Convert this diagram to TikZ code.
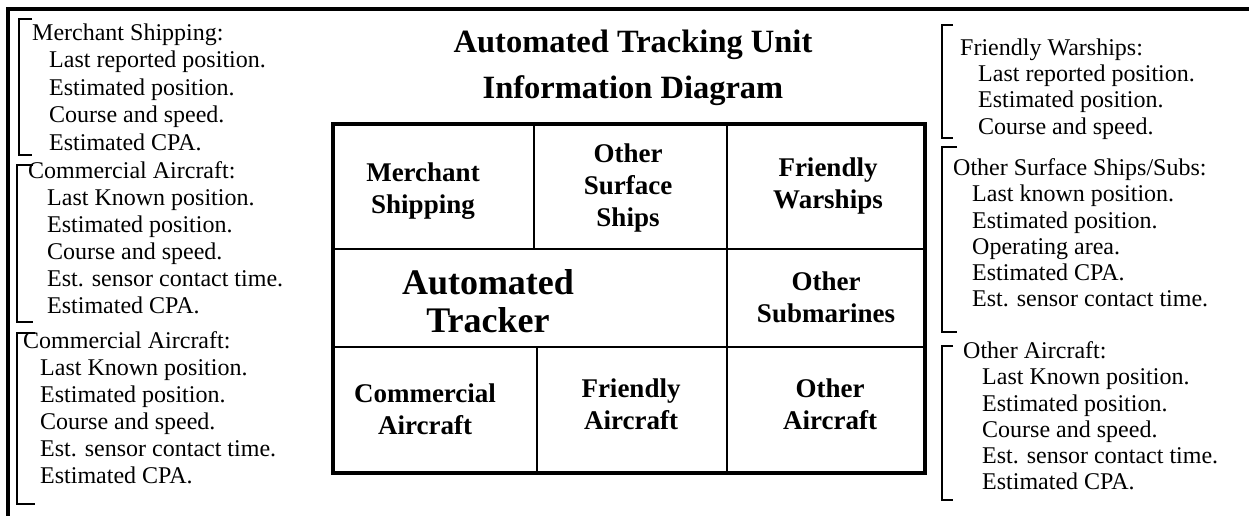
\documentclass[tikz,border=0pt]{standalone}
\usepackage{fontspec}
\setmainfont{Liberation Serif}
\begin{document}
\begin{tikzpicture}[x=1pt,y=-1pt,
  side/.style={anchor=base west,inner sep=0pt,font=\fontsize{24}{27}\selectfont},
  cell/.style={align=center,inner sep=0pt,font=\fontsize{27}{32}\selectfont\bfseries},
  bigcell/.style={align=center,inner sep=0pt,font=\fontsize{36}{38}\selectfont\bfseries},
  ttl/.style={anchor=base,inner sep=0pt,font=\fontsize{32.5}{40}\selectfont\bfseries},
  brk/.style={line width=2.5pt},
  gridthin/.style={line width=2.8pt},
  gridthick/.style={line width=4.5pt}]
\useasboundingbox (0,0) rectangle (1249,516);
\fill[white] (0,0) rectangle (1249,516);
% page frame
\draw[line width=3.5pt] (8,516) -- (8,9) -- (1249,9);
% title
\node[ttl] (t1) at (633,52.5) {Automated Tracking Unit};
\node[ttl] (t2) at (633,98.5) {Information Diagram};
% grid
\draw[gridthin] (333,249) -- (925,249);
\draw[gridthin] (333,347) -- (925,347);
\draw[gridthin] (534,124) -- (534,249);
\draw[gridthin] (727,124) -- (727,473);
\draw[gridthin] (537,347) -- (537,473);
\draw[gridthick] (333,124) rectangle (925,473);
\node[cell] (c1) at (423,191) {Merchant\\Shipping};
\node[cell] (c2) at (628,188) {Other\\Surface\\Ships};
\node[cell] (c3) at (828,186) {Friendly\\Warships};
\node[bigcell] (c4) at (488,301) {Automated\\Tracker};
\node[cell] (c5) at (826,297) {Other\\Submarines};
\node[cell] (c6) at (425,409) {Commercial\\Aircraft};
\node[cell] (c7) at (631,404) {Friendly\\Aircraft};
\node[cell] (c8) at (830,404) {Other\\Aircraft};
% left brackets
\draw[brk] (32,19) -- (19,19) -- (19,155) -- (32,155);
\draw[brk] (33,165) -- (17,165) -- (17,322) -- (33,322);
\draw[brk] (35,333) -- (17,333) -- (17,504) -- (35,504);
% left block 1
\node[side] (la0) at (32,41) {Merchant Shipping:};
\node[side] (la1) at (49,68) {Last reported position.};
\node[side] (la2) at (49,96) {Estimated position.};
\node[side] (la3) at (49,123) {Course and speed.};
\node[side] (la4) at (49,150) {Estimated CPA.};
% left block 2
\node[side] (lb0) at (28,178) {Commercial Aircraft:};
\node[side] (lb1) at (47,205) {Last Known position.};
\node[side] (lb2) at (47,232) {Estimated position.};
\node[side] (lb3) at (47,259) {Course and speed.};
\node[side] (lb4) at (47,286) {Est. sensor contact time.};
\node[side] (lb5) at (47,313) {Estimated CPA.};
% left block 3
\node[side] (lc0) at (23,348) {Commercial Aircraft:};
\node[side] (lc1) at (40,375) {Last Known position.};
\node[side] (lc2) at (40,402) {Estimated position.};
\node[side] (lc3) at (40,429) {Course and speed.};
\node[side] (lc4) at (40,456) {Est. sensor contact time.};
\node[side] (lc5) at (40,483) {Estimated CPA.};
% right brackets
\draw[brk] (953,25) -- (942,25) -- (942,138) -- (953,138);
\draw[brk] (957,147) -- (942,147) -- (942,332) -- (957,332);
\draw[brk] (953,346) -- (942,346) -- (942,500) -- (953,500);
% right block 1
\node[side] (ra0) at (960,56) {Friendly Warships:};
\node[side] (ra1) at (978,82) {Last reported position.};
\node[side] (ra2) at (978,108) {Estimated position.};
\node[side] (ra3) at (978,134) {Course and speed.};
% right block 2
\node[side] (rb0) at (953,175) {Other Surface Ships/Subs:};
\node[side] (rb1) at (972,201) {Last known position.};
\node[side] (rb2) at (972,228) {Estimated position.};
\node[side] (rb3) at (972,254) {Operating area.};
\node[side] (rb4) at (972,280) {Estimated CPA.};
\node[side] (rb5) at (972,306) {Est. sensor contact time.};
% right block 3
\node[side] (rc0) at (963,358) {Other Aircraft:};
\node[side] (rc1) at (982,384) {Last Known position.};
\node[side] (rc2) at (982,411) {Estimated position.};
\node[side] (rc3) at (982,437) {Course and speed.};
\node[side] (rc4) at (982,463) {Est. sensor contact time.};
\node[side] (rc5) at (982,489) {Estimated CPA.};
\end{tikzpicture}
\end{document}
